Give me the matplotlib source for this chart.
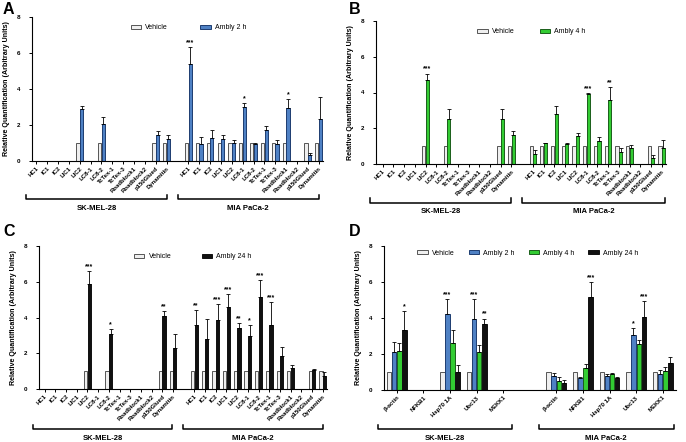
import numpy as np
import matplotlib
matplotlib.use('Agg')
import matplotlib.pyplot as plt
from matplotlib.patches import Patch
import matplotlib.transforms as mtransforms

plt.rcParams['font.family'] = ['Liberation Sans', 'DejaVu Sans']

# ---- data ----
genes = ['HC1', 'IC1', 'IC2', 'LIC1', 'LIC2', 'LC8-1', 'LC8-2', 'TcTex-1',
         'TcTex-3', 'Roadblock1', 'Roadblock2', 'p150Glued', 'Dynamitin']
genes_d = ['β-actin', 'NFKB1', 'Hsp70 1A', 'Ubc13', 'MEKK1']
groups = ['SK-MEL-28', 'MIA PaCa-2']

# vehicle (same pattern in A-C), SK-MEL-28 then MIA PaCa-2
veh_sk = [0, 0, 0, 0, 1, 0, 1, 0, 0, 0, 0, 1, 1]
veh_mia = [1, 1, 1, 1, 1, 1, 1, 1, 1, 1, 0, 1, 1]

# panel A: Ambly 2 h
a_sk = [0, 0, 0, 0, 2.87, 0, 2.05, 0, 0, 0, 0, 1.47, 1.23]
a_sk_err = [0, 0, 0, 0, 0.18, 0, 0.37, 0, 0, 0, 0, 0.19, 0.22]
a_mia = [5.4, 0.93, 1.3, 1.25, 1.02, 3.0, 0.93, 1.75, 0.95, 2.92, 0, 0.35, 2.36]
a_mia_err = [0.93, 0.39, 0.45, 0.22, 0.15, 0.2, 0.06, 0.18, 0.22, 0.54, 0, 0.12, 1.17]
a_sk_sig = [''] * 13
a_mia_sig = ['***', '', '', '', '', '*', '', '', '', '*', '', '', '']

# panel B: Ambly 4 h
b_sk = [0, 0, 0, 0, 4.69, 0, 2.49, 0, 0, 0, 0, 2.49, 1.6]
b_sk_err = [0, 0, 0, 0, 0.37, 0, 0.61, 0, 0, 0, 0, 0.61, 0.24]
b_mia = [0.58, 1.15, 2.79, 1.12, 1.58, 3.9, 1.3, 3.6, 0.69, 0.91, 0, 0.35, 0.89]
b_mia_err = [0.18, 0.04, 0.47, 0.03, 0.13, 0.08, 0.23, 0.68, 0.18, 0.17, 0, 0.15, 0.43]
b_sk_sig = ['', '', '', '', '***', '', '', '', '', '', '', '', '']
b_mia_sig = ['', '', '', '', '', '***', '', '**', '', '', '', '', '']

# panel C: Ambly 24 h
c_sk = [0, 0, 0, 0, 5.9, 0, 3.1, 0, 0, 0, 0, 4.06, 2.29]
c_sk_err = [0, 0, 0, 0, 0.7, 0, 0.23, 0, 0, 0, 0, 0.31, 0.81]
c_mia = [3.6, 2.8, 3.87, 4.56, 3.4, 2.98, 5.17, 3.6, 1.84, 1.2, 0, 1.08, 0.74]
c_mia_err = [0.8, 1.1, 0.87, 0.74, 0.28, 0.59, 0.93, 1.24, 0.52, 0.16, 0, 0.04, 0.23]
c_sk_sig = ['', '', '', '', '***', '', '*', '', '', '', '', '**', '']
c_mia_sig = ['**', '', '***', '***', '**', '*', '***', '***', '', '', '', '', '']

# panel D: all time points, SK-MEL-28 then MIA PaCa-2
d_veh = [1, 0, 1, 1, 0, 1, 1, 1, 1, 1]
d_2h = [2.09, 0, 4.21, 3.97, 0, 0.79, 0.65, 0.79, 3.05, 0.89]
d_2h_err = [0.55, 0, 0.84, 1.08, 0, 0.15, 0.05, 0.1, 0.37, 0.22]
d_4h = [2.18, 0, 2.6, 2.13, 0, 0.52, 1.22, 0.87, 2.55, 1.07]
d_4h_err = [0.41, 0, 0.73, 0.38, 0, 0.2, 0.22, 0.05, 0.24, 0.22]
d_24h = [3.35, 0, 1.0, 3.66, 0, 0.39, 5.18, 0.67, 4.08, 1.5]
d_24h_err = [1.05, 0, 0.39, 0.31, 0, 0.16, 0.81, 0.07, 0.87, 0.31]
d_2h_sig = ['', '', '***', '***', '', '', '', '', '*', '']
d_4h_sig = [''] * 10
d_24h_sig = ['*', '', '', '**', '', '', '***', '', '***', '']

# ---- style ----
c_veh = '#efefef'
e_veh = '#555555'
c_blue = '#4f81c4'
e_blue = '#1d3c70'
c_green = '#33cc33'
e_green = '#1b5e1b'
c_black = '#111111'

W, H = 686, 442
fig = plt.figure(figsize=(W / 100, H / 100), dpi=100)


def px_axes(l, t, r, b):
    return fig.add_axes([l / W, 1 - b / H, (r - l) / W, (b - t) / H])


def style_axes(ax):
    for s in ['top', 'right']:
        ax.spines[s].set_visible(False)
    for s in ['left', 'bottom']:
        ax.spines[s].set_linewidth(0.8)
    ax.set_ylim(0, 8)
    ax.set_yticks([0, 2, 4, 6, 8])
    ax.tick_params(axis='y', labelsize=4.5, length=2.5, width=0.7, pad=6)
    ax.tick_params(axis='x', labelsize=4.3, length=2.5, width=0.7, pad=1)
    for lab in ax.get_yticklabels():
        lab.set_fontweight('bold')
    ax.set_ylabel('Relative Quantification (Arbitrary Units)', fontsize=5.1,
                  fontweight='bold', labelpad=5)


def draw_bars(ax, x, vals, errs, sigs, width, face, edge):
    vals = np.asarray(vals, float)
    errs = np.asarray(errs, float)
    m = vals > 0
    ax.bar(x[m], vals[m], width=width, color=face, edgecolor=edge, linewidth=0.7)
    if errs.any():
        ax.errorbar(x[m], vals[m], yerr=[np.zeros(m.sum()), errs[m]], fmt='none',
                    ecolor='black', elinewidth=0.6, capsize=1.2, capthick=0.6)
    for xi, v, e, s in zip(x, vals, errs, sigs):
        if s:
            ax.text(xi, v + e + 0.05, s, ha='center', va='bottom', fontsize=5,
                    fontweight='bold')


def brackets(ax, spans, ybr, ylab):
    tr = mtransforms.blended_transform_factory(ax.transData, ax.transAxes)
    for (x0, x1), name in zip(spans, groups):
        ax.plot([x0, x0, x1, x1], [ybr + 0.03, ybr, ybr, ybr + 0.03], color='black',
                lw=1.1, transform=tr, clip_on=False)
        ax.text((x0 + x1) / 2, ylab, name, transform=tr, ha='center', va='top',
                fontsize=5.5, fontweight='bold')


def legend(ax, handles, labels, x, y, spacing):
    ax.legend(handles, labels, loc='center left', bbox_to_anchor=(x, y), ncol=len(labels),
              frameon=False, fontsize=5, handlelength=1.5, handleheight=0.6,
              handletextpad=0.6, columnspacing=spacing, borderaxespad=0)


def panel_dynein(ax, drug, drug_err, sigs, face, edge, xlim0, label, lx, spacing):
    xs = np.concatenate([np.arange(13), np.arange(13) + 14]).astype(float)
    veh_all = veh_sk + veh_mia
    draw_bars(ax, xs - 0.165, veh_all, [0] * 26, [''] * 26, 0.3, c_veh, e_veh)
    draw_bars(ax, xs + 0.165, drug, drug_err, sigs, 0.3, face, edge)
    ax.set_xlim(xlim0, 26.4)
    ax.set_xticks(xs)
    ax.set_xticklabels(genes + genes, rotation=45, ha='right', rotation_mode='anchor',
                       fontweight='bold')
    style_axes(ax)
    legend(ax, [Patch(facecolor=c_veh, edgecolor=e_veh, lw=0.7),
                Patch(facecolor=face, edgecolor=edge, lw=0.7)],
           ['Vehicle', label], lx, 0.925, spacing)


# A
axA = px_axes(32, 17, 323, 161)
panel_dynein(axA, a_sk + a_mia, a_sk_err + a_mia_err, a_sk_sig + a_mia_sig,
             c_blue, e_blue, -0.4, 'Ambly 2 h', 0.33, 4.6)
brackets(axA, [(-0.95, 12.05), (13.0, 26.0)], -0.265, -0.305)

# B
axB = px_axes(376, 21, 666, 164)
panel_dynein(axB, b_sk + b_mia, b_sk_err + b_mia_err, b_sk_sig + b_mia_sig,
             c_green, e_green, -0.62, 'Ambly 4 h', 0.34, 3.6)
brackets(axB, [(-1.15, 12.0), (13.0, 26.3)], -0.27, -0.31)

# C
axC = px_axes(39, 246, 327, 389)
panel_dynein(axC, c_sk + c_mia, c_sk_err + c_mia_err, c_sk_sig + c_mia_sig,
             c_black, c_black, -0.53, 'Ambly 24 h', 0.32, 4.4)
brackets(axC, [(-1.1, 11.9), (12.95, 26.0)], -0.28, -0.32)

# D
axD = px_axes(384, 246, 676, 390)
xd = np.concatenate([np.arange(5), np.arange(5) + 6]).astype(float)
bw = 0.17
draw_bars(axD, xd - 0.29, d_veh, [0] * 10, [''] * 10, bw, c_veh, e_veh)
draw_bars(axD, xd - 0.1, d_2h, d_2h_err, d_2h_sig, bw, c_blue, e_blue)
draw_bars(axD, xd + 0.1, d_4h, d_4h_err, d_4h_sig, bw, c_green, e_green)
draw_bars(axD, xd + 0.29, d_24h, d_24h_err, d_24h_sig, bw, c_black, c_black)
axD.set_xlim(-0.48, 10.5)
axD.set_xticks(xd)
axD.set_xticklabels(genes_d + genes_d, rotation=45, ha='right', rotation_mode='anchor',
                    fontweight='bold')
style_axes(axD)
legend(axD, [Patch(facecolor=c_veh, edgecolor=e_veh, lw=0.7),
             Patch(facecolor=c_blue, edgecolor=e_blue, lw=0.7),
             Patch(facecolor=c_green, edgecolor=e_green, lw=0.7),
             Patch(facecolor=c_black, edgecolor=c_black, lw=0.7)],
       ['Vehicle', 'Ambly 2 h', 'Ambly 4 h', 'Ambly 24 h'], 0.105, 0.95, 2.0)
brackets(axD, [(-0.7, 4.35), (5.33, 10.42)], -0.27, -0.31)

# panel letters
for lt, (x, y) in zip('ABCD', [(3, 2), (349, 2), (3, 224), (349, 224)]):
    fig.text(x / W, 1 - y / H, lt, fontsize=11.5, fontweight='bold', va='top', ha='left')

fig.savefig('out.png', dpi=100)
